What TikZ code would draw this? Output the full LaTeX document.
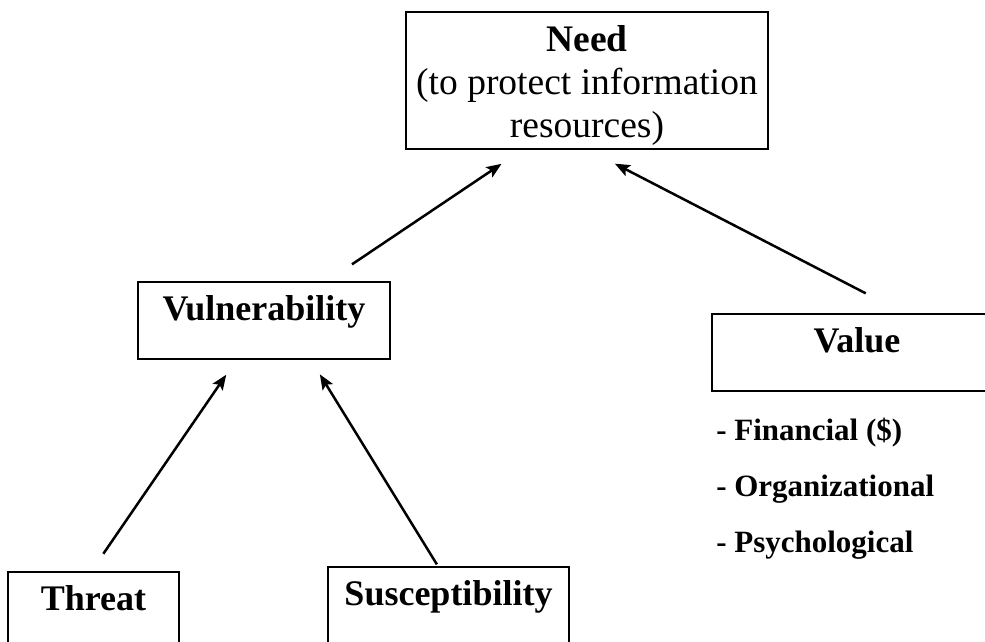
\documentclass[tikz,border=0pt]{standalone}
\usepackage{fontspec}
\setmainfont{Liberation Serif}
\usepackage{tikz}
\usetikzlibrary{arrows.meta}

\begin{document}
\begin{tikzpicture}[x=1pt,y=-1pt,->,>={Stealth[length=15pt,width=12pt,inset=3pt]},line width=2.5pt,
  main node/.style={rectangle,draw,line width=1.8pt,inner sep=0pt,minimum height=77pt,
    font=\fontsize{36}{36}\selectfont\bfseries,text height=24pt,text depth=24pt},
  need node/.style={rectangle,draw,line width=1.8pt,inner sep=0pt,align=center,
    minimum width=362pt,minimum height=137pt,font=\fontsize{37.5}{43}\selectfont},
  list node/.style={align=left,inner sep=0pt,font=\fontsize{31}{56}\selectfont\bfseries}]

  \useasboundingbox (0,0) rectangle (985,642);

  \node[need node] (1) at (587,80.5) {\rule{0pt}{35pt}\textbf{Need}\\(to protect information\\resources)};
  \node[main node,minimum width=252pt] (2) at (264,320.5) {Vulnerability};
  \node[main node,minimum width=290pt] (3) at (857,352.5) {Value};
  \node[main node,minimum width=171pt] (4) at (93.5,610.5) {Threat};
  \node[main node,minimum width=241pt] (5) at (448.5,605.5) {Susceptibility};
  \node[list node,anchor=north west] (6) at (715,417) {- Financial (\$)\\- Organizational\\- Psychological};

  \path
    (2.32) edge[shorten <=30pt,shorten >=25pt] (1.227)
    (3.40) edge[shorten <=43pt,shorten >=30pt] (1.271)
    (4.93) edge[shorten <=21pt,shorten >=18pt] (2.235)
    (5.105) edge[shorten <=2pt,shorten >=17pt] (2.320);
\end{tikzpicture}
\end{document}
